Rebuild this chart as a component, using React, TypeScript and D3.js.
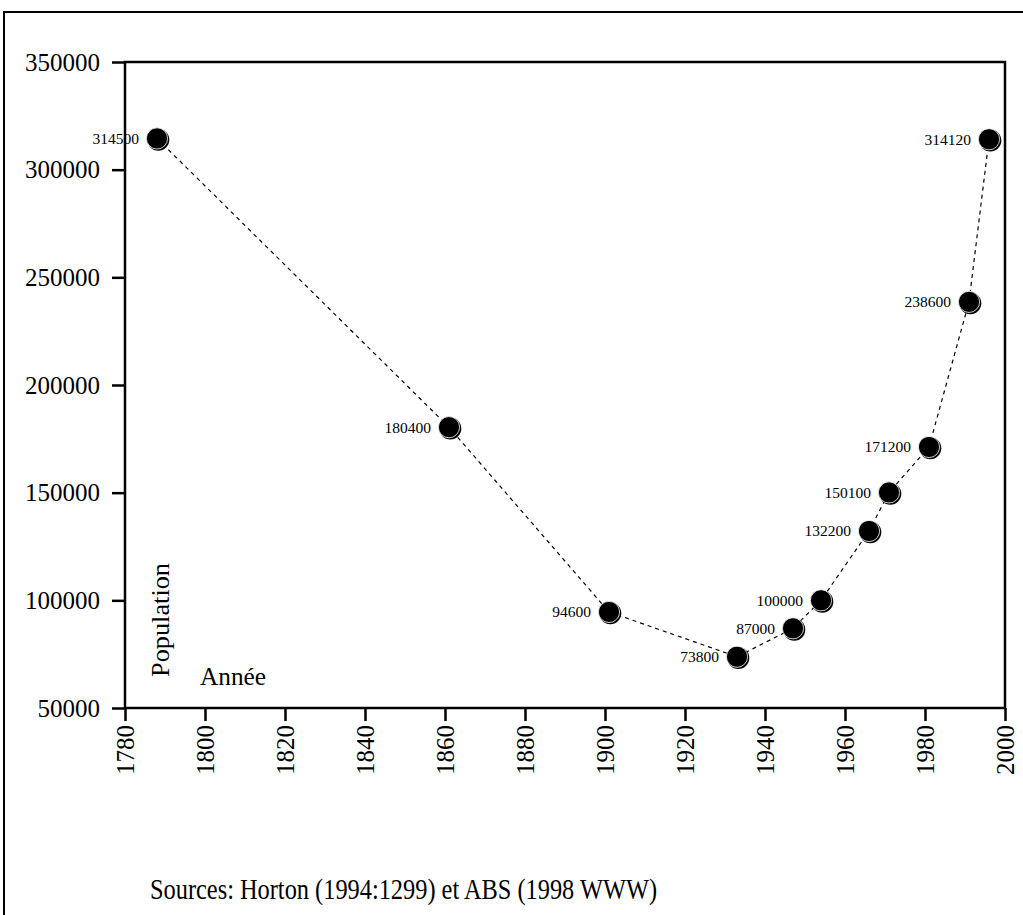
import React, { useEffect, useRef } from "react";
import * as d3 from "d3";

const years = [1788, 1861, 1901, 1933, 1947, 1954, 1966, 1971, 1981, 1991, 1996];
const population = [314500, 180400, 94600, 73800, 87000, 100000, 132200, 150100, 171200, 238600, 314120];
const pointLabels = ["314500", "180400", "94600", "73800", "87000", "100000", "132200", "150100", "171200", "238600", "314120"];
const xTicks = [1780, 1800, 1820, 1840, 1860, 1880, 1900, 1920, 1940, 1960, 1980, 2000];
const yTicks = [50000, 100000, 150000, 200000, 250000, 300000, 350000];

const W = 1023;
const H = 915;
const M = { left: 125, right: 1005, top: 62, bottom: 708 };
const FONT = "'Liberation Serif', 'Times New Roman', serif";

export default function App() {
  const ref = useRef<SVGSVGElement>(null);
  useEffect(() => {
    const svg = d3.select(ref.current);
    svg.selectAll("*").remove();
    const x = d3.scaleLinear().domain([1780, 2000]).range([M.left, M.right]);
    const y = d3.scaleLinear().domain([50000, 350000]).range([M.bottom, M.top]);

    svg.append("rect").attr("width", W).attr("height", H).attr("fill", "white");
    // outer frame
    svg.append("path")
      .attr("d", `M4,${H + 5} L4,12 L${W + 5},12`)
      .attr("fill", "none").attr("stroke", "black").attr("stroke-width", 2);

    // plot frame
    svg.append("rect")
      .attr("x", M.left).attr("y", M.top)
      .attr("width", M.right - M.left).attr("height", M.bottom - M.top)
      .attr("fill", "none").attr("stroke", "black").attr("stroke-width", 2.5);

    const yAxis = svg.append("g").attr("transform", `translate(${M.left},0)`)
      .call(d3.axisLeft(y).tickValues(yTicks).tickSize(13).tickPadding(10).tickFormat(d3.format("d")));
    yAxis.select(".domain").remove();
    yAxis.selectAll("line").attr("stroke-width", 2.5);
    yAxis.selectAll("text").attr("font-family", FONT).attr("font-size", 25).attr("fill", "black")
      .attr("x", -25);

    const xAxis = svg.append("g").attr("transform", `translate(0,${M.bottom})`)
      .call(d3.axisBottom(x).tickValues(xTicks).tickSize(13).tickPadding(0).tickFormat(d3.format("d")));
    xAxis.select(".domain").remove();
    xAxis.selectAll("line").attr("stroke-width", 2.5);
    xAxis.selectAll("text")
      .attr("font-family", FONT).attr("font-size", 25).attr("fill", "black")
      .attr("transform", "rotate(-90)")
      .attr("text-anchor", "end")
      .attr("x", -17).attr("y", 0).attr("dy", "0.33em");

    const data = years.map((yr, i) => ({ yr, v: population[i], label: pointLabels[i] }));

    const line = d3.line<{ yr: number; v: number }>().x(d => x(d.yr)).y(d => y(d.v));
    svg.append("path").datum(data).attr("d", line as any)
      .attr("fill", "none").attr("stroke", "black").attr("stroke-width", 1.2)
      .attr("stroke-dasharray", "4,4");

    const g = svg.append("g");
    g.selectAll("circle.shadow").data(data).enter().append("circle")
      .attr("class", "shadow")
      .attr("cx", d => x(d.yr) + 1.3).attr("cy", d => y(d.v) + 1.3).attr("r", 11)
      .attr("fill", "black");
    g.selectAll("circle.main").data(data).enter().append("circle")
      .attr("class", "main")
      .attr("cx", d => x(d.yr)).attr("cy", d => y(d.v)).attr("r", 10.6)
      .attr("fill", "black").attr("stroke", "white").attr("stroke-width", 0.8);

    g.selectAll("text.lbl").data(data).enter().append("text")
      .attr("class", "lbl")
      .attr("x", d => x(d.yr) - 18).attr("y", d => y(d.v))
      .attr("dy", "0.35em").attr("text-anchor", "end")
      .attr("font-family", FONT).attr("font-size", 15.5).attr("fill", "black")
      .text(d => d.label);

    svg.append("text")
      .attr("transform", "translate(169,677) rotate(-90)")
      .attr("font-family", FONT).attr("font-size", 25).attr("fill", "black")
      .attr("textLength", 114).attr("lengthAdjust", "spacingAndGlyphs")
      .text("Population");
    svg.append("text")
      .attr("x", 200).attr("y", 685)
      .attr("font-family", FONT).attr("font-size", 26).attr("fill", "black")
      .attr("textLength", 66).attr("lengthAdjust", "spacingAndGlyphs")
      .text("Année");
    svg.append("text")
      .attr("x", 150).attr("y", 899)
      .attr("font-family", FONT).attr("font-size", 30).attr("fill", "black")
      .attr("textLength", 507).attr("lengthAdjust", "spacingAndGlyphs")
      .text("Sources: Horton (1994:1299) et ABS (1998 WWW)");
  }, []);
  return (
    <svg ref={ref} width={W} height={H} style={{ position: "absolute", left: 0, top: 0, display: "block" }} />
  );
}
